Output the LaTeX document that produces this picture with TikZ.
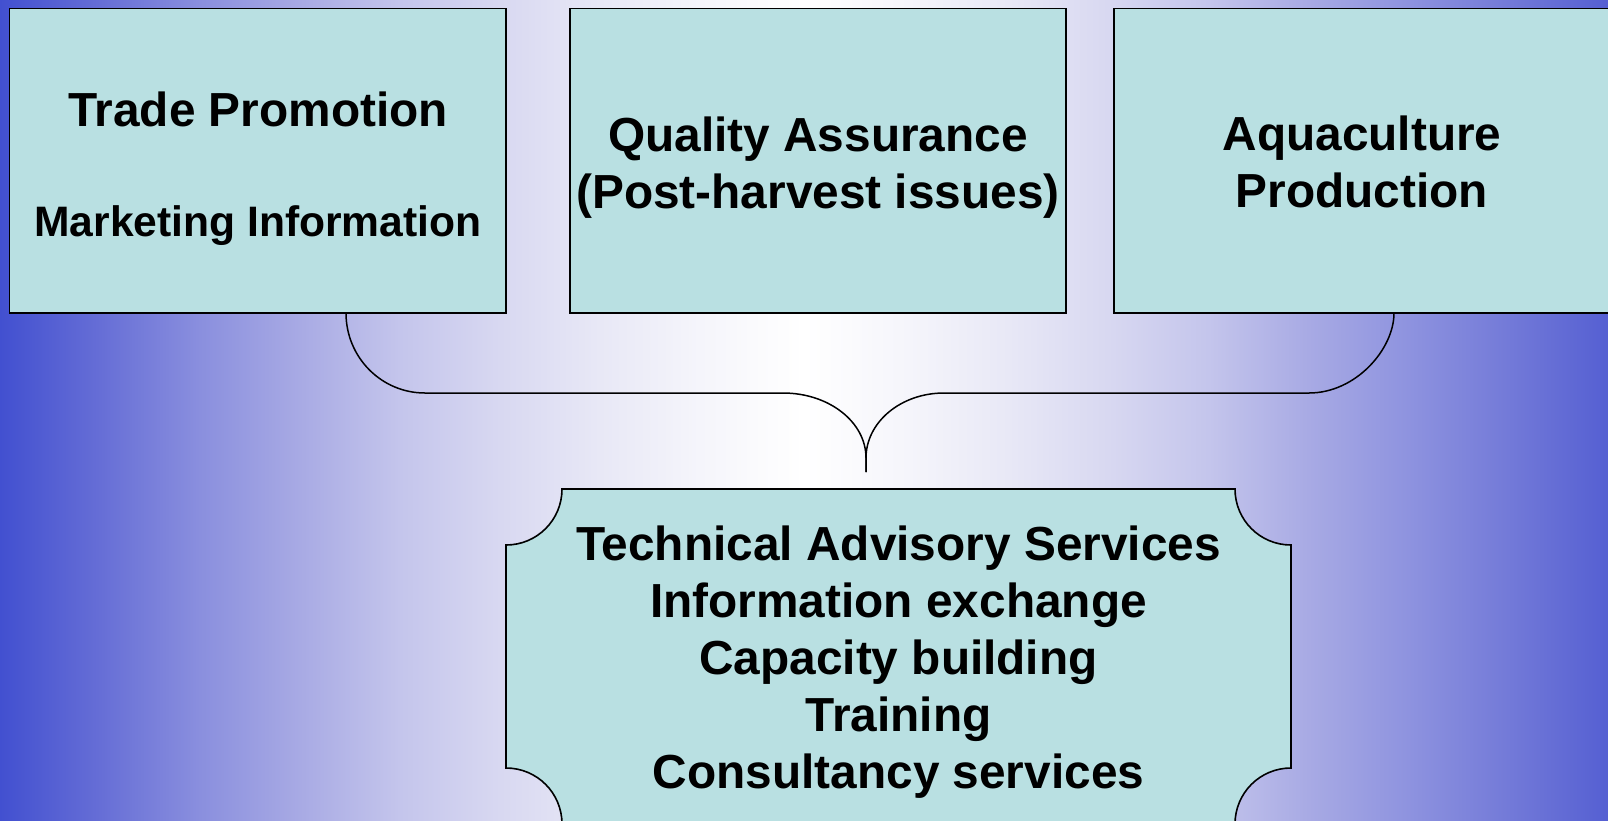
\documentclass[tikz,border=0pt]{standalone}
\usepackage{fontspec}
\setmainfont{Liberation Sans}
\definecolor{boxfill}{RGB}{185,224,226}
\pgfdeclarehorizontalshading{bgshade}{100bp}{%
rgb(0bp)=(.259,.314,.816);
rgb(25bp)=(.259,.314,.816);
rgb(28.11bp)=(.400,.431,.839);
rgb(31.22bp)=(.541,.561,.871);
rgb(34.33bp)=(.659,.667,.894);
rgb(37.44bp)=(.769,.773,.925);
rgb(40.55bp)=(.847,.847,.945);
rgb(43.66bp)=(.910,.910,.965);
rgb(46.77bp)=(.961,.961,.984);
rgb(50bp)=(1,1,1);
rgb(53.23bp)=(.961,.961,.984);
rgb(56.34bp)=(.910,.910,.965);
rgb(59.45bp)=(.847,.847,.945);
rgb(62.56bp)=(.769,.773,.925);
rgb(65.67bp)=(.659,.667,.894);
rgb(68.78bp)=(.557,.576,.875);
rgb(71.89bp)=(.451,.478,.847);
rgb(75bp)=(.333,.373,.824);
rgb(100bp)=(.333,.373,.824)}
\begin{document}
\begin{tikzpicture}[x=1pt,y=-1pt,
  box/.style={draw=black, line width=1.6pt, fill=boxfill, minimum width=496.5pt, minimum height=304.5pt, inner sep=0pt},
  tasbox/.style={draw=black, line width=1.6pt, fill=boxfill},
  ttl/.style={font=\fontsize{47.8}{57}\selectfont\bfseries, anchor=base, inner sep=0pt},
  subttl/.style={font=\fontsize{42.6}{50}\selectfont\bfseries, anchor=base, inner sep=0pt},
  brace/.style={draw=black, line width=1.5pt}]
\useasboundingbox (0,0) rectangle (1608,820);
\shade[shading=bgshade] (0,0) rectangle (1608,820);

% top boxes
\node[box] (tp) at (257.75,160.75) {};
\node[box] (qa) at (818,160.75) {};
\node[box] (aq) at (1362,160.75) {};
\node[ttl] (tpA) at (258,126) {Trade Promotion};
\node[subttl] (tpB) at (258,236) {Marketing Information};
\node[ttl] (qaA) at (818,151) {Quality Assurance};
\node[ttl] (qaB) at (818,208) {(Post-harvest issues)};
\node[ttl] (aqA) at (1362,150) {Aquaculture};
\node[ttl] (aqB) at (1362,207) {Production};

% bottom box
\draw[tasbox] (562,489) -- (1235,489)
  .. controls (1235,520) and (1260,545) .. (1291,545)
  -- (1291,768)
  .. controls (1260,768) and (1235,793) .. (1235,824)
  -- (562,824)
  .. controls (562,793) and (537,768) .. (506,768)
  -- (506,545)
  .. controls (537,545) and (562,520) .. (562,489) -- cycle;
\node[ttl] (tas1) at (898.5,560) {Technical Advisory Services};
\node[ttl] (tas2) at (898.5,617) {Information exchange};
\node[ttl] (tas3) at (898.5,674) {Capacity building};
\node[ttl] (tas4) at (898.5,731) {Training};
\node[ttl] (tas5) at (898.5,788) {Consultancy services};

% brace
\coordinate (bl) at (346,313);
\coordinate (br) at (1394,313);
\coordinate (tip) at (866,472);
\draw[brace] (bl) .. controls (346,357) and (381,393) .. (425,393) -- (783,393)
  .. controls (829,393) and (866,422) .. (866,458) -- (tip);
\draw[brace] (br) .. controls (1394,349) and (1356,393) .. (1309,393) -- (944,393)
  .. controls (901,393) and (866,422) .. (866,458) -- (tip);
\end{tikzpicture}
\end{document}
